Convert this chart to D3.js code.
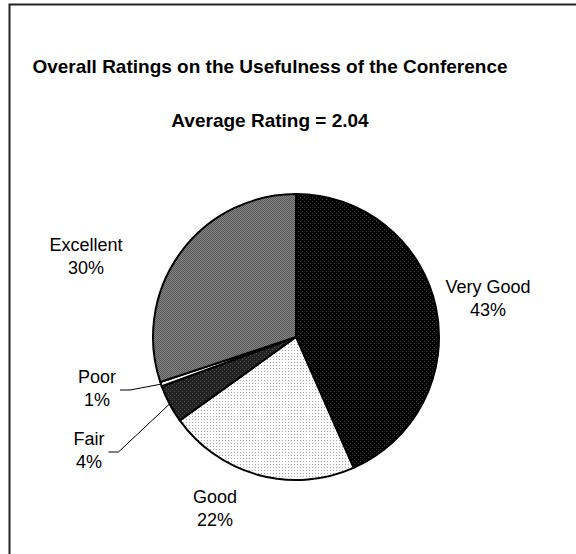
<!DOCTYPE html>
<html>
<head>
<meta charset="utf-8">
<script src="https://cdn.jsdelivr.net/npm/d3@7"></script>
<style>
  body { margin: 0; background: #fff; overflow: hidden; }
  svg { display: block; }
  text { font-family: "Liberation Sans", Arial, sans-serif; fill: #000; }
</style>
</head>
<body>
<svg width="576" height="554"></svg>
<script>
// Slice data (percent of responses), clockwise from 12 o'clock
const categories = ["Very Good", "Good", "Fair", "Poor", "Excellent"];
const shares = [43.4, 21.7, 4.3, 0.5, 30.1];
const labels = ["43%", "22%", "4%", "1%", "30%"];

const width = 576, height = 554;
const cx = 296, cy = 337, radius = 143;

const svg = d3.select("svg");

// Frame around the chart area: only the top and left edges are in view
svg.append("path")
    .attr("d", `M9.5,${height} V4.5 H${width}`)
    .attr("fill", "none")
    .attr("stroke", "#222")
    .attr("stroke-width", 2);

// Titles
svg.append("text")
    .attr("x", 270).attr("y", 73)
    .attr("text-anchor", "middle")
    .style("font-size", "19px").style("font-weight", "bold")
    .text("Overall Ratings on the Usefulness of the Conference");

svg.append("text")
    .attr("x", 270).attr("y", 127)
    .attr("text-anchor", "middle")
    .style("font-size", "19px").style("font-weight", "bold")
    .text("Average Rating = 2.04");

// Dithered fill patterns, one per slice
const defs = svg.append("defs");
function dotPattern(id, size, bg, dot, dots) {
  const p = defs.append("pattern")
      .attr("id", id)
      .attr("patternUnits", "userSpaceOnUse")
      .attr("width", size).attr("height", size);
  p.append("rect").attr("width", size).attr("height", size).attr("fill", bg);
  dots.forEach(d => p.append("rect")
      .attr("x", d[0]).attr("y", d[1]).attr("width", 1).attr("height", 1)
      .attr("fill", dot));
}
dotPattern("p-vgood", 4, "#030303", "#3a3a3a", [[0, 0], [2, 2]]);
dotPattern("p-good", 3, "#ffffff", "#a8a8a8", [[1, 1]]);
dotPattern("p-fair", 4, "#222222", "#505050", [[0, 0], [2, 2]]);
dotPattern("p-poor", 4, "#ffffff", "#ffffff", []);
dotPattern("p-exc", 2, "#585858", "#858585", [[0, 0], [1, 1]]);
const fills = ["url(#p-vgood)", "url(#p-good)", "url(#p-fair)", "url(#p-poor)", "url(#p-exc)"];

const data = categories.map((c, i) => ({ name: c, value: shares[i], label: labels[i], fill: fills[i] }));

const pie = d3.pie().sort(null).value(d => d.value);
const arc = d3.arc().innerRadius(0).outerRadius(radius);
const arcs = pie(data);

const g = svg.append("g").attr("transform", `translate(${cx},${cy})`);

g.selectAll("path.slice")
    .data(arcs)
    .enter().append("path")
    .attr("class", "slice")
    .attr("d", arc)
    .attr("fill", d => d.data.fill)
    .attr("stroke", "#000")
    .attr("stroke-width", 2)
    .attr("stroke-linejoin", "round");

// Label block centres relative to the pie centre (Excel-style placement)
const labelOffset = {
  "Very Good": [192, -39],
  "Good": [-81, 171],
  "Fair": [-207, 113],
  "Poor": [-199, 51],
  "Excellent": [-210, -81]
};
const leader = { "Fair": true, "Poor": true };

arcs.forEach(a => {
  const off = labelOffset[a.data.name];
  const t = g.append("text")
      .attr("text-anchor", "middle")
      .style("font-size", "18px")
      .attr("transform", `translate(${off[0]},${off[1]})`);
  t.append("tspan").attr("x", 0).attr("y", -5).text(a.data.name);
  t.append("tspan").attr("x", 0).attr("y", 18).text(a.data.label);

  if (leader[a.data.name]) {
    const bb = t.node().getBBox();
    const mid = (a.startAngle + a.endAngle) / 2;
    const edge = [Math.sin(mid) * radius, -Math.cos(mid) * radius];
    const endX = off[0] + bb.x + bb.width + 4;
    const y = off[1] + 2;
    g.append("polyline")
        .attr("points", [[endX, y], [endX + 10, y], edge].map(p => p.join(",")).join(" "))
        .attr("fill", "none")
        .attr("stroke", "#000")
        .attr("stroke-width", 1);
  }
});
</script>
</body>
</html>
